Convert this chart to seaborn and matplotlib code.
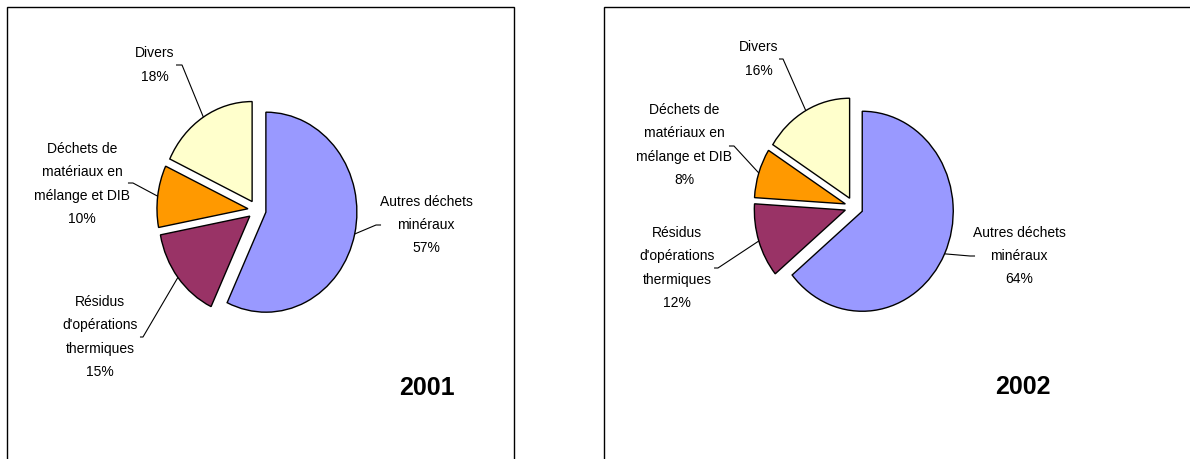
import numpy as np
import matplotlib
matplotlib.use("Agg")
import matplotlib.pyplot as plt
from matplotlib.patches import Rectangle
import seaborn as sns

# data
categories = ["Autres déchets\nminéraux", "Résidus\nd'opérations\nthermiques",
              "Déchets de\nmatériaux en\nmélange et DIB", "Divers"]
years = ["2001", "2002"]
shares_2001 = [57, 15, 10, 18]
shares_2002 = [64, 12, 8, 16]
colors = ["#9999FF", "#993366", "#FF9900", "#FFFFCC"]

sns.set_style("white")
plt.rcParams['font.family'] = ['Liberation Sans', 'DejaVu Sans']
plt.rcParams['text.color'] = 'black'

W, H = 1190, 459
fig = plt.figure(figsize=(W / 100, H / 100), dpi=100)

# layout (pixels): axes span, pie centre, radii, label text / elbow / stub positions in pie units
panels = [
    dict(span=(0, 560), centre=(257, 210), box=(7, 7, 507),
         year_pos=(427, 388),
         text=[(1.857, -0.15), (-1.725, -1.27), (-1.923, 0.26), (-1.121, 1.45)],
         elbow=[(1.308, -0.15), (-1.253, -1.27), (-1.363, 0.27), (-0.824, 1.45)],
         stub=[(1.363, -0.15), (-1.286, -1.27), (-1.418, 0.27), (-0.890, 1.45)]),
    dict(span=(580, 1190), centre=(854, 207), box=(604, 7, 620),
         year_pos=(1023, 387),
         text=[(1.813, -0.49), (-1.945, -0.61), (-1.868, 0.62), (-1.044, 1.48)],
         elbow=[(1.275, -0.49), (-1.495, -0.61), (-1.319, 0.61), (-0.780, 1.48)],
         stub=[(1.330, -0.49), (-1.538, -0.61), (-1.374, 0.61), (-0.824, 1.48)]),
]
rx, ry = 91, 100
explode = 0.1

for year, shares, p in zip(years, [shares_2001, shares_2002], panels):
    x0, x1 = p["span"]
    cx, cy = p["centre"]
    ax = fig.add_axes([x0 / W, 0, (x1 - x0) / W, 1])
    wedges, _ = ax.pie(shares, explode=[explode] * len(shares), colors=colors,
                       startangle=90, counterclock=False,
                       wedgeprops=dict(edgecolor="black", linewidth=1.0))
    ax.set_aspect("auto")
    ax.set_xlim((x0 - cx) / rx, (x1 - cx) / rx)
    ax.set_ylim((cy - H) / ry, cy / ry)
    ax.axis("off")

    for w, cat, val, tp, ep, sp in zip(wedges, categories, shares,
                                       p["text"], p["elbow"], p["stub"]):
        mid = np.deg2rad((w.theta1 + w.theta2) / 2)
        ax_pt = ((1 + explode) * np.cos(mid), (1 + explode) * np.sin(mid))
        ax.plot([ax_pt[0], ep[0], sp[0]], [ax_pt[1], ep[1], sp[1]],
                color="black", lw=0.8, solid_capstyle="butt")
        ax.text(tp[0], tp[1], f"{cat}\n{val}%", ha="center", va="center",
                fontsize=10, linespacing=1.85, color="black")

    fig.text(p["year_pos"][0] / W, 1 - p["year_pos"][1] / H, year,
             ha="center", va="center", fontsize=18, fontweight="bold",
             color="black")

    bx, by, bw = p["box"]
    fig.add_artist(Rectangle((bx / W, -0.1), bw / W, 1 - by / H + 0.1,
                             transform=fig.transFigure, fill=False,
                             edgecolor="black", linewidth=1.0))

fig.savefig("out.png", dpi=100)
